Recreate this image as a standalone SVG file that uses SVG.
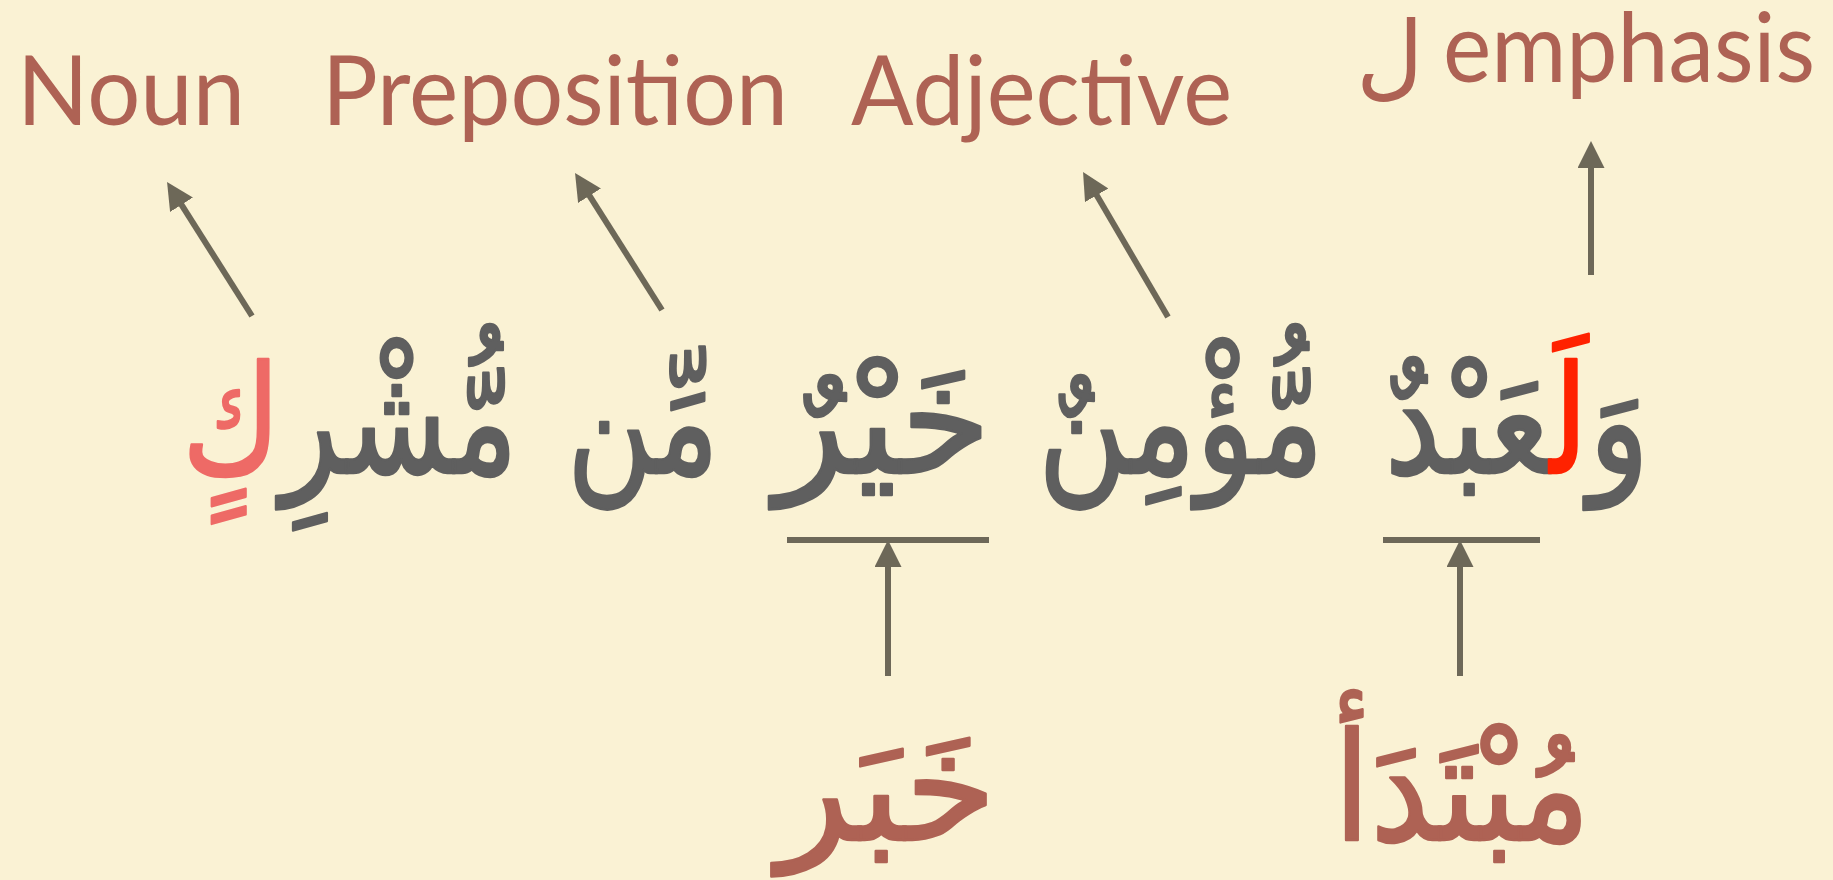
<svg xmlns="http://www.w3.org/2000/svg" width="1833" height="880" viewBox="0 0 1833 880">
  <defs>
    <style>
      .lbl { font-family: "Lato", "Open Sans", "Liberation Sans", sans-serif; font-size: 97px; fill: #AE6254; }
      .ar { font-family: "DejaVu Sans", sans-serif; font-size: 150px; fill: #5F5F5F; stroke: #5F5F5F; stroke-width: 2.5; stroke-linejoin: round; }
      .arlbl { font-family: "DejaVu Sans", sans-serif; font-size: 150px; fill: #AE6254; stroke: #AE6254; stroke-width: 2.5; stroke-linejoin: round; }
      .red { fill: #FF2200; stroke: #FF2200; }
      .pink { fill: #EE6A66; stroke: #EE6A66; }
      .conn { stroke: #6D6858; stroke-width: 6; fill: none; }
      .bar { stroke: #6D6858; stroke-width: 6; }
    </style>
    <marker id="ah" markerUnits="userSpaceOnUse" markerWidth="28" markerHeight="28" refX="17" refY="13.5" orient="auto">
      <path d="M0,0 L27,13.5 L0,27 Z" fill="#6D6858"/>
    </marker>
  </defs>
  <rect x="0" y="0" width="1833" height="880" fill="#FAF2D4"/>

  <g id="label-noun"><text class="lbl" x="17" y="125" textLength="228" lengthAdjust="spacingAndGlyphs">Noun</text></g>
  <g id="label-preposition"><text class="lbl" x="322" y="125" textLength="466" lengthAdjust="spacingAndGlyphs">Preposition</text></g>
  <g id="label-adjective"><text class="lbl" x="851" y="125" textLength="381" lengthAdjust="spacingAndGlyphs">Adjective</text></g>
  <g id="label-emphasis"><text class="lbl" y="82"><tspan x="1356" y="88" style="font-family:'DejaVu Sans',sans-serif;font-size:93px">ل</tspan><tspan x="1443" y="82" textLength="372" lengthAdjust="spacingAndGlyphs">emphasis</tspan></text></g>

  <g id="word-walaabdun"><text class="ar" x="1517" y="473" text-anchor="middle" direction="rtl" textLength="265" lengthAdjust="spacingAndGlyphs">وَ<tspan class="red">لَ</tspan>عَبْدٌ</text></g>
  <g id="word-muminun"><text class="ar" x="1181" y="473" text-anchor="middle" direction="rtl" textLength="286" lengthAdjust="spacingAndGlyphs">مُّؤْمِنٌ</text></g>
  <g id="word-khayrun"><text class="ar" x="883" y="473" text-anchor="middle" direction="rtl" textLength="216" lengthAdjust="spacingAndGlyphs">خَيْرٌ</text></g>
  <g id="word-min"><text class="ar" x="643" y="473" text-anchor="middle" direction="rtl" textLength="152" lengthAdjust="spacingAndGlyphs">مِّن</text></g>
  <g id="word-mushrikin"><text class="ar" x="350" y="473" text-anchor="middle" direction="rtl" textLength="336" lengthAdjust="spacingAndGlyphs">مُّشْرِ<tspan class="pink">كٍ</tspan></text></g>

  <g id="label-khabar"><text class="arlbl" x="887" y="840" text-anchor="middle" direction="rtl" textLength="219" lengthAdjust="spacingAndGlyphs">خَبَر</text></g>
  <g id="label-mubtada"><text class="arlbl" x="1462" y="840" text-anchor="middle" direction="rtl" textLength="257" lengthAdjust="spacingAndGlyphs">مُبْتَدَأ</text></g>

  <g id="connectors">
    <line class="bar" x1="787" y1="540" x2="989" y2="540"/>
    <line class="bar" x1="1383" y1="540" x2="1540" y2="540"/>
    <line class="conn" x1="252" y1="316" x2="172.4" y2="190.4" marker-end="url(#ah)"/>
    <line class="conn" x1="662" y1="310" x2="580.4" y2="181.4" marker-end="url(#ah)"/>
    <line class="conn" x1="1168" y1="317" x2="1088.1" y2="180.6" marker-end="url(#ah)"/>
    <line class="conn" x1="1591" y1="275" x2="1591" y2="151" marker-end="url(#ah)"/>
    <line class="conn" x1="888" y1="676" x2="888" y2="550" marker-end="url(#ah)"/>
    <line class="conn" x1="1460" y1="676" x2="1460" y2="550" marker-end="url(#ah)"/>
  </g>
</svg>
